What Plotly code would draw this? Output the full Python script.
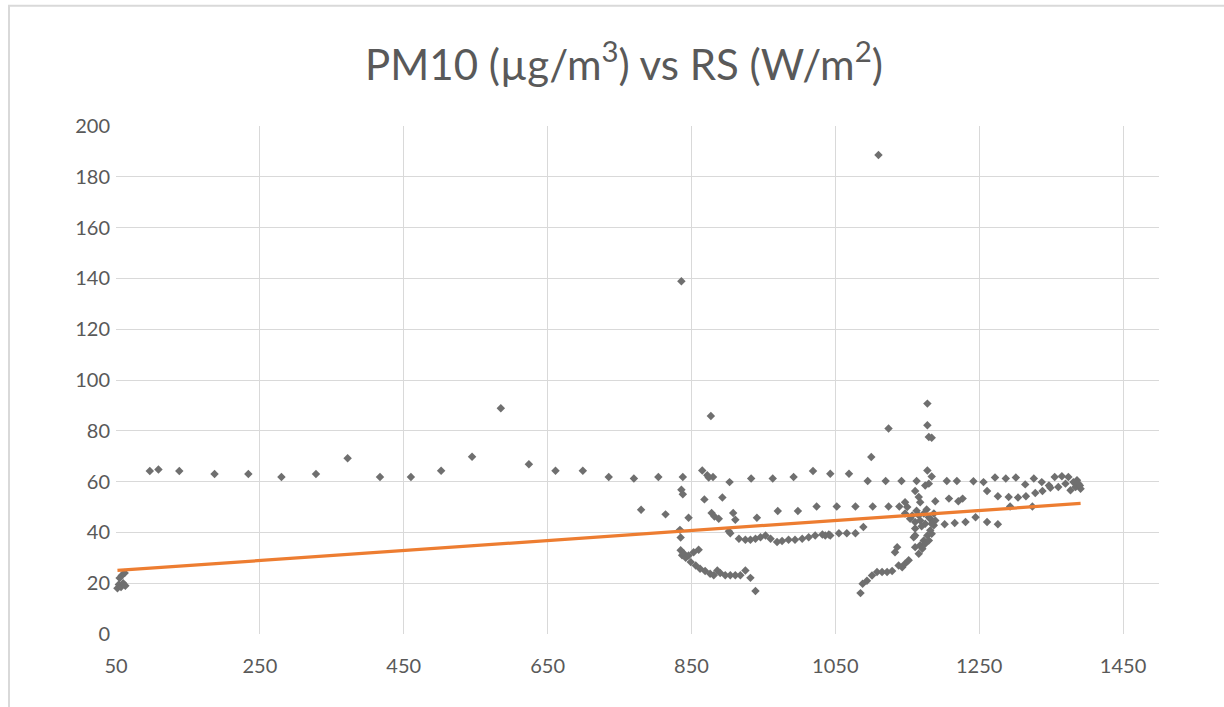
import numpy as np
import plotly.graph_objects as go

# Solar radiation RS (W/m2) and PM10 concentration (ug/m3), one pair per observation
rs = [
    52, 54, 57, 60, 63, 58, 62, 55,
    97, 109, 138, 187, 234, 280, 328, 372, 417, 460, 502, 545, 585, 624, 661, 699,
    735, 770, 804, 838, 780, 814,
    836, 836, 838, 834, 835, 846,
    835, 837, 839, 842, 846, 849, 853, 856, 860, 862, 869, 876, 881, 886, 890,
    897, 904, 911, 918, 925, 932, 939,
    902, 904, 916, 925, 932, 939, 946, 953, 960, 969, 976, 985, 994, 1004, 1013,
    1022, 1032, 1041, 1036, 1043, 1055, 1066, 1078, 1089,
    878, 882, 888, 908, 911, 941, 970, 998, 1024, 1052, 1078, 1102, 1124, 1139, 1147,
    868, 893,
    865, 872, 874, 880, 903, 933, 963, 992, 1019, 1043, 1069, 1095, 1100, 1120, 1142,
    1163, 1184, 1205, 1219, 1242, 1256, 1272, 1287, 1301, 1314, 1326, 1337, 1347,
    877,
    1110, 1124, 1178, 1178, 1180, 1184, 1178, 1175, 1180, 1161, 1166, 1168,
    1147, 1154, 1161, 1168, 1175, 1182, 1157, 1166, 1150, 1173, 1187, 1170, 1161,
    1180, 1163, 1177,
    1085, 1088, 1094, 1101, 1108, 1115, 1122, 1129, 1133, 1136, 1138, 1143, 1147,
    1152, 1159, 1161, 1161, 1166, 1168, 1171, 1173, 1175, 1178, 1180, 1182, 1184,
    1187, 1189, 1184,
    1189, 1208, 1221, 1227, 1261, 1276, 1291, 1304, 1315, 1328, 1338, 1349,
    1202, 1216, 1231, 1245, 1261, 1276,
    1293, 1324,
    1355, 1365, 1374, 1381, 1388, 1391, 1384, 1370, 1360, 1377, 1390, 1386,
]
pm10 = [
    18, 19.5, 18.5, 20, 19, 23, 24, 22,
    64.2, 64.8, 64.2, 63, 63, 61.8, 63, 69.2, 61.8, 61.8, 64.3, 69.8, 88.9, 66.8, 64.3, 64.3,
    61.8, 61.2, 61.8, 61.8, 48.9, 47.1,
    138.9, 56.8, 55, 41, 38, 45.8,
    33, 31, 31.8, 30, 30.9, 28.3, 32.2, 27, 33.2, 25.7, 24.8, 23.7, 23.1, 25, 24,
    23.1, 23.1, 23.1, 23.1, 25, 22.1, 16.9,
    40.5, 39.7, 37.5, 37.1, 37.1, 37.5, 38.1, 38.8, 37.5, 36.2, 36.6, 37.1, 37.1, 37.5, 38.1,
    38.8, 39.2, 39.2, 38.8, 38.8, 39.7, 39.7, 39.7, 42.1,
    47.6, 46.3, 45.4, 47.6, 45, 45.8, 48.4, 48.4, 50.2, 50.2, 50.2, 50.2, 50.2, 50.2, 51.9,
    53, 53.7,
    64.4, 62.5, 61.6, 61.8, 59.8, 61.2, 61.2, 61.8, 64.2, 63.1, 63.1, 60.2, 69.7, 60.2, 60.2,
    60.2, 62, 60.2, 60.2, 60.1, 59.8, 61.6, 61.2, 61.6, 58.9, 61.2, 59.8, 58.5,
    85.8,
    188.6, 80.9, 90.7, 82.2, 77.6, 77.3, 64.4, 58.5, 59.2, 56.3, 53.9, 51.9,
    47.4, 45.4, 44.1, 44.7, 43.4, 45.4, 46.7, 46.7, 50, 47.4, 47.4, 42.4, 41.5,
    46, 48.5, 49,
    16.1, 19.8, 21, 23, 24.4, 24.4, 24.4, 24.8, 32.2, 34.2, 27, 26.3, 27.7,
    29, 38.1, 34.2, 38.8, 31.6, 34.9, 33.6, 36.8, 35.5, 38.8, 36.8, 40.8, 39.5,
    42.8, 44.7, 43.4,
    52.3, 53.3, 52.3, 53.3, 56.3, 54.2, 53.9, 53.7, 54.2, 55.5, 56.3, 57.6,
    43.2, 43.7, 44.1, 46, 44.1, 43.2,
    50.2, 50.2,
    61.8, 62.1, 61.8, 59.8, 59.2, 57.2, 57.9, 59.2, 57.9, 56.6, 58.5, 60.5,
]

# Linear trendline y = slope * x + intercept
trend_slope = 0.0197
trend_intercept = 24.0

x_ticks = [50, 250, 450, 650, 850, 1050, 1250, 1450]
y_ticks = [0, 20, 40, 60, 80, 100, 120, 140, 160, 180, 200]

trend_x = np.array([min(rs), max(rs)])
trend_y = trend_slope * trend_x + trend_intercept

fig = go.Figure()
fig.add_trace(go.Scatter(
    x=rs, y=pm10, mode="markers",
    marker=dict(symbol="diamond", size=6.5, color="#6f6f6f", line=dict(width=0)),
    showlegend=False, cliponaxis=False,
))
fig.add_trace(go.Scatter(
    x=trend_x, y=trend_y, mode="lines",
    line=dict(color="#ED7D31", width=3.2),
    showlegend=False,
))

font_family = "Lato, Carlito, 'Open Sans', sans-serif"
fig.update_layout(
    width=1224, height=707,
    margin=dict(l=116, r=65, t=126, b=73),
    paper_bgcolor="white", plot_bgcolor="white",
    title=dict(
        text="PM10 (µg/m<sup>3</sup>) vs RS (W/m<sup>2</sup>)",
        x=624 / 1224, xanchor="center", xref="container",
        y=1 - 65 / 707, yanchor="middle", yref="container",
        font=dict(family=font_family, size=42, color="#595959"),
    ),
    font=dict(family=font_family, color="#595959"),
    xaxis=dict(
        range=[50, 1500], tickmode="array", tickvals=x_ticks,
        ticktext=[str(v) for v in x_ticks],
        showgrid=True, gridcolor="#d9d9d9", gridwidth=1,
        zeroline=False, showline=False, ticks="",
        tickfont=dict(size=20, color="#595959"),
        ticklabelstandoff=18,
    ),
    yaxis=dict(
        range=[0, 200], tickmode="array", tickvals=y_ticks,
        showgrid=True, gridcolor="#d9d9d9", gridwidth=1,
        zeroline=False, showline=False, ticks="",
        tickfont=dict(size=20, color="#595959"),
        ticklabelstandoff=5,
    ),
    shapes=[dict(
        type="rect", xref="paper", yref="paper",
        x0=-0.1026, x1=2.0, y0=-1.0, y1=1.2365,
        line=dict(color="#d9d9d9", width=2), fillcolor="rgba(0,0,0,0)",
        layer="below",
    )],
)

fig.write_html("out.html")
